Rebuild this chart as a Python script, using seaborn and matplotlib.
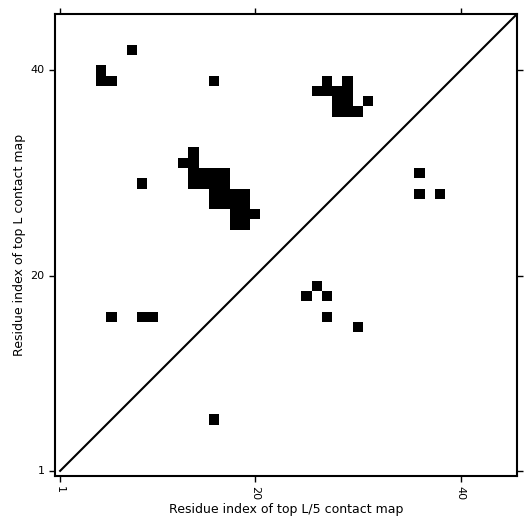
import numpy as np
import matplotlib
matplotlib.use("Agg")
import matplotlib.pyplot as plt
from matplotlib.colors import ListedColormap
import seaborn as sns

# sequence length and contacts (residue indices, 1-based)
seq_len = 45
upper_x = [8, 5, 5, 6, 16,
           27, 29, 26, 27, 28, 29, 28, 29, 31, 28, 29, 30,
           14, 13, 14, 14, 15, 16, 17, 14, 15, 16, 17, 9,
           16, 17, 18, 19, 16, 17, 18, 19, 18, 19, 20, 18, 19,
           6, 9, 10]
upper_y = [42, 40, 39, 39, 39,
           39, 39, 38, 38, 38, 38, 37, 37, 37, 36, 36, 36,
           32, 31, 31, 30, 30, 30, 30, 29, 29, 29, 29, 29,
           28, 28, 28, 28, 27, 27, 27, 27, 26, 26, 26, 25, 25,
           16, 16, 16]
lower_x = [36, 36, 38, 26, 25, 27, 27, 30, 16]
lower_y = [30, 28, 28, 19, 18, 18, 16, 15, 6]
tick_res = [1, 20, 40]

cmap = np.zeros((seq_len, seq_len))
for x, y in zip(upper_x + lower_x, upper_y + lower_y):
    cmap[y - 1, x - 1] = 1

fig = plt.figure(figsize=(5.31, 5.31), dpi=100)
ax = fig.add_axes([55 / 531, 55 / 531, 462 / 531, 462 / 531])
sns.heatmap(cmap, cmap=ListedColormap(['white', 'black']), vmin=0, vmax=1,
            cbar=False, square=False, ax=ax)
ax.set_xlim(0, seq_len)
ax.set_ylim(0, seq_len)
ax.plot([0.5, seq_len + 1], [0.5, seq_len + 1], color='black', lw=1.5)

ax.set_xticks([t - 0.5 for t in tick_res])
ax.set_xticklabels([str(t) for t in tick_res], rotation=270, fontsize=8)
ax.set_yticks([t - 0.5 for t in tick_res])
ax.set_yticklabels([str(t) for t in tick_res], rotation=0, fontsize=8)
ax.tick_params(direction='out', length=4, width=1, top=True, right=True,
               labeltop=False, labelright=False)
for s in ax.spines.values():
    s.set_visible(True)
    s.set_linewidth(1.5)
ax.set_xlabel('Residue index of top L/5 contact map', fontsize=9, labelpad=2)
ax.set_ylabel('Residue index of top L contact map', fontsize=9, labelpad=3)

plt.savefig('out.png', dpi=100)
